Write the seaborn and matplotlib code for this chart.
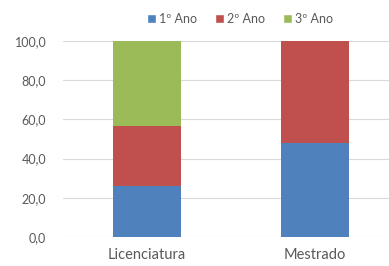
import matplotlib
matplotlib.use("Agg")
import matplotlib.pyplot as plt
import numpy as np
import pandas as pd
import seaborn as sns
from matplotlib.patches import Patch
from matplotlib.ticker import FuncFormatter

categories = ["Licenciatura", "Mestrado"]
series = ["1º Ano", "2º Ano", "3º Ano"]
ano1 = [26.0, 48.0]
ano2 = [30.5, 52.0]
ano3 = [43.5, 0.0]
colors = ["#4F81BD", "#C0504D", "#9BBB59"]

sns.set_theme(style="white")
plt.rcParams["font.family"] = ["Lato", "DejaVu Sans"]

fig = plt.figure(figsize=(3.89, 2.66), dpi=100)
ax = fig.add_axes([0.162, 0.109, 0.838, 0.737])

# stacked bars: draw cumulative totals from the top series down
stack = np.cumsum([ano1, ano2, ano3], axis=0)
for i in reversed(range(len(series))):
    df = pd.DataFrame({"cat": categories, "val": stack[i]})
    sns.barplot(data=df, x="cat", y="val", color=colors[i], width=0.4,
                saturation=1, linewidth=0, ax=ax, zorder=2)

ax.set_ylim(0, 100)
ax.set_xlim(-0.5, 1.44)
ax.set_yticks(np.arange(0, 101, 20))
ax.yaxis.set_major_formatter(FuncFormatter(lambda v, p: f"{v:.1f}".replace(".", ",")))
ax.yaxis.grid(True, color="#d9d9d9", linewidth=0.8, zorder=0)
ax.set_axisbelow(True)
for s in ax.spines.values():
    s.set_visible(False)
ax.set_xlabel("")
ax.set_ylabel("")
ax.tick_params(axis="y", labelsize=9, colors="#595959", length=0, pad=12)
ax.tick_params(axis="x", labelsize=10.5, colors="#595959", length=0, pad=8)

handles = [Patch(facecolor=c, label=s) for c, s in zip(colors, series)]
fig.legend(handles=handles, loc="center", bbox_to_anchor=(0.617, 0.93), ncol=3,
           frameon=False, fontsize=9, handlelength=0.7, handleheight=0.7,
           handletextpad=0.3, columnspacing=1.4, labelcolor="#595959")

fig.savefig("out.png", dpi=100)
